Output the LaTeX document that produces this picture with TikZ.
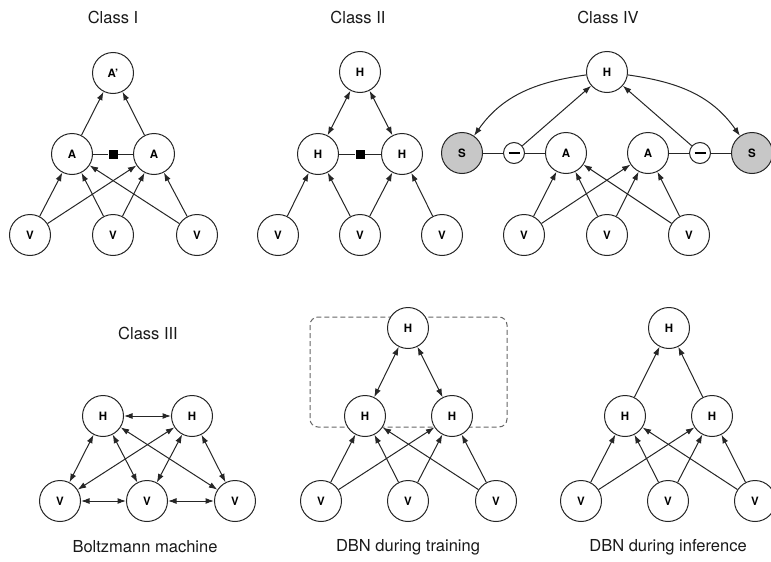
\documentclass[tikz,border=0pt]{standalone}
\usepackage{fontspec}
\setmainfont{TeX Gyre Heros}
\usetikzlibrary{arrows.meta}
\begin{document}
\begin{tikzpicture}[x=1pt,y=-1pt,
 nd/.style={circle,draw=black!85,line width=1pt,minimum size=41pt,inner sep=0pt,font=\fontsize{11.5}{12}\selectfont\bfseries,fill=white},
 sg/.style={nd,fill=black!22},
 mn/.style={circle,draw=black!85,line width=1pt,minimum size=21pt,inner sep=0pt,fill=white},
 sq/.style={rectangle,fill=black,minimum size=9pt,inner sep=0pt},
 ar/.style={-{Latex[length=8.5pt,width=6pt]},line width=1pt,draw=black!85},
 da/.style={{Latex[length=8.5pt,width=6pt]}-{Latex[length=8.5pt,width=6pt]},line width=1pt,draw=black!85},
 ln/.style={line width=1pt,draw=black!85},
 ttl/.style={font=\fontsize{16.5}{18}\selectfont,text=black!90},
]
\useasboundingbox (0,0) rectangle (771,562);

% ---------- Class I ----------
\node[ttl] (t1) at (113,17) {Class I};
\node[nd] (a1top) at (113,73) {A'};
\node[nd] (a1l) at (72,154) {A};
\node[nd] (a1r) at (154,154) {A};
\node[sq] (sq1) at (113,154) {};
\node[nd] (v1a) at (30,235) {V};
\node[nd] (v1b) at (113,235) {V};
\node[nd] (v1c) at (197,235) {V};
\draw[ln] (a1l) -- (sq1) -- (a1r);
\draw[ar] (a1l) -- (a1top);
\draw[ar] (a1r) -- (a1top);
\foreach \s in {v1a,v1b,v1c}{\draw[ar] (\s) -- (a1l); \draw[ar] (\s) -- (a1r);}

% ---------- Class II ----------
\node[ttl] (t2) at (358,17) {Class II};
\node[nd] (h2top) at (360,72) {H};
\node[nd] (h2l) at (318,154) {H};
\node[nd] (h2r) at (402,154) {H};
\node[sq] (sq2) at (360,154) {};
\node[nd] (v2a) at (278,235) {V};
\node[nd] (v2b) at (360,235) {V};
\node[nd] (v2c) at (442,235) {V};
\draw[ln] (h2l) -- (sq2) -- (h2r);
\draw[da] (h2l) -- (h2top);
\draw[da] (h2r) -- (h2top);
\draw[ar] (v2a) -- (h2l);
\draw[ar] (v2b) -- (h2l);
\draw[ar] (v2b) -- (h2r);
\draw[ar] (v2c) -- (h2r);

% ---------- Class IV ----------
\node[ttl] (t4) at (608,17) {Class IV};
\node[nd] (h4) at (607,72) {H};
\node[sg] (s4l) at (462,153) {S};
\node[sg] (s4r) at (752,153) {S};
\node[mn] (m4l) at (514,153) {\rule[-1.3pt]{11pt}{2.6pt}};
\node[mn] (m4r) at (700,153) {\rule[-1.3pt]{11pt}{2.6pt}};
\node[nd] (a4l) at (566,153) {A};
\node[nd] (a4r) at (648,153) {A};
\node[nd] (v4a) at (524,235) {V};
\node[nd] (v4b) at (607,235) {V};
\node[nd] (v4c) at (689,235) {V};
\draw[ln] (s4l) -- (m4l) -- (a4l);
\draw[ln] (a4r) -- (m4r) -- (s4r);
\draw[ar] (m4l) -- (h4);
\draw[ar] (m4r) -- (h4);
\draw[ar] (h4) to[out=188,in=55] (s4l);
\draw[ar] (h4) to[out=-8,in=125] (s4r);
\foreach \s in {v4a,v4b,v4c}{\draw[ar] (\s) -- (a4l); \draw[ar] (\s) -- (a4r);}

% ---------- Class III ----------
\node[ttl] (t3) at (148,333) {Class III};
\node[nd] (h3l) at (103,416) {H};
\node[nd] (h3r) at (192,416) {H};
\node[nd] (v3a) at (60,501) {V};
\node[nd] (v3b) at (147,501) {V};
\node[nd] (v3c) at (235,501) {V};
\node[ttl] (c3) at (145,547) {Boltzmann machine};
\draw[da] (h3l) -- (h3r);
\draw[da] (v3a) -- (v3b);
\draw[da] (v3b) -- (v3c);
\foreach \s in {v3a,v3b,v3c}{\draw[da] (h3l) -- (\s); \draw[da] (h3r) -- (\s);}

% ---------- DBN training ----------
\draw[dashed,dash pattern=on 5pt off 3pt,line width=1pt,draw=black!60,rounded corners=8pt] (310,317) rectangle (507,427);
\node[nd] (h5top) at (408,328) {H};
\node[nd] (h5l) at (365,416) {H};
\node[nd] (h5r) at (452,416) {H};
\node[nd] (v5a) at (321,501) {V};
\node[nd] (v5b) at (408,501) {V};
\node[nd] (v5c) at (496,501) {V};
\node[ttl] (c5) at (408,547) {DBN during training};
\draw[da] (h5l) -- (h5top);
\draw[da] (h5r) -- (h5top);
\foreach \s in {v5a,v5b,v5c}{\draw[ar] (\s) -- (h5l); \draw[ar] (\s) -- (h5r);}

% ---------- DBN inference ----------
\node[nd] (h6top) at (669,328) {H};
\node[nd] (h6l) at (625,416) {H};
\node[nd] (h6r) at (712,416) {H};
\node[nd] (v6a) at (581,501) {V};
\node[nd] (v6b) at (668,501) {V};
\node[nd] (v6c) at (755,501) {V};
\node[ttl] (c6) at (668,547) {DBN during inference};
\draw[ar] (h6l) -- (h6top);
\draw[ar] (h6r) -- (h6top);
\foreach \s in {v6a,v6b,v6c}{\draw[ar] (\s) -- (h6l); \draw[ar] (\s) -- (h6r);}
\end{tikzpicture}
\end{document}
